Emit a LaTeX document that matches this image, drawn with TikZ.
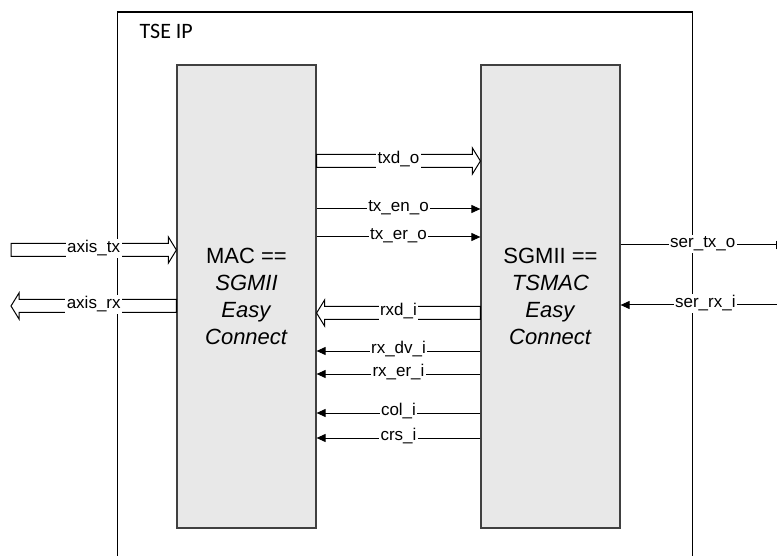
\documentclass[tikz,border=0pt]{standalone}
\usepackage{fontspec}
\setmainfont{Liberation Sans}
\newfontfamily\tsefont{Carlito}
\usepackage{tikz}
\usetikzlibrary{arrows.meta,positioning,calc}
\definecolor{blockgray}{HTML}{E8E8E8}

\begin{document}
\begin{tikzpicture}[x=1pt,y=-1pt,
  blk/.style={draw=black!75,line width=1.2pt,fill=blockgray,minimum width=139pt,minimum height=463pt,inner sep=0pt,align=center,font=\fontsize{22}{27}\selectfont},
  lab/.style={fill=white,inner sep=1.5pt,anchor=mid,font=\fontsize{17}{20}\selectfont},
  ar/.style={-{Triangle[length=9pt,width=8pt]},line width=1pt},
  hr/.style={draw,fill=white,line width=1pt,to path={let \p1=(\tikztostart),\p2=(\tikztotarget) in
    (\x1,\y1+6.5pt) -- (\x2-8pt,\y1+6.5pt) -- (\x2-8pt,\y1+13pt) -- (\x2,\y1) -- (\x2-8pt,\y1-13pt) -- (\x2-8pt,\y1-6.5pt) -- (\x1,\y1-6.5pt) -- cycle}},
  hl/.style={draw,fill=white,line width=1pt,to path={let \p1=(\tikztostart),\p2=(\tikztotarget) in
    (\x1,\y1+6.5pt) -- (\x2+8pt,\y1+6.5pt) -- (\x2+8pt,\y1+13pt) -- (\x2,\y1) -- (\x2+8pt,\y1-13pt) -- (\x2+8pt,\y1-6.5pt) -- (\x1,\y1-6.5pt) -- cycle}}]
\useasboundingbox (0,0) rectangle (777,556);

% outer IP frame
\node[draw,line width=1.2pt,minimum width=575pt,minimum height=570pt,inner sep=0pt,anchor=north west] (tse) at (117,11.5) {};
\node[anchor=base west,font=\tsefont\fontsize{22}{26}\selectfont] (tsel) at (136,39) {TSE IP};

\node[blk] (mac) at (246.5,296.5) {MAC ==\\\textit{SGMII}\\\textit{Easy}\\\textit{Connect}};
\node[blk] (sgm) at (550.5,296.5) {SGMII ==\\\textit{TSMAC}\\\textit{Easy}\\\textit{Connect}};

% free ends
\coordinate (axtx) at (11,250);
\coordinate (axrx) at (11,306);
\coordinate (sertx) at (785,245);
\coordinate (serrx) at (790,305);

% user side
\draw[hr] (axtx) to (mac.west |- axtx);
\path (axtx) -- node[lab]{axis\_tx} (mac.west |- axtx);
\draw[hl] (mac.west |- axrx) to (axrx);
\path (axrx) -- node[lab]{axis\_rx} (mac.west |- axrx);

% tx direction
\draw[hr] (mac.east |- 0,161) to (sgm.west |- 0,161);
\path (mac.east |- 0,161) -- node[lab]{txd\_o} (sgm.west |- 0,161);
\draw[ar] (mac.east |- 0,209) -- node[lab]{tx\_en\_o} (sgm.west |- 0,209);
\draw[ar] (mac.east |- 0,237) -- node[lab]{tx\_er\_o} (sgm.west |- 0,237);

% rx direction
\draw[hl] (sgm.west |- 0,313) to (mac.east |- 0,313);
\path (sgm.west |- 0,313) -- node[lab]{rxd\_i} (mac.east |- 0,313);
\draw[ar] (sgm.west |- 0,351) -- node[lab]{rx\_dv\_i} (mac.east |- 0,351);
\draw[ar] (sgm.west |- 0,374) -- node[lab]{rx\_er\_i} (mac.east |- 0,374);
\draw[ar] (sgm.west |- 0,413) -- node[lab]{col\_i} (mac.east |- 0,413);
\draw[ar] (sgm.west |- 0,438) -- node[lab]{crs\_i} (mac.east |- 0,438);

% serial side
\draw[ar] (sgm.east |- sertx) -- node[lab]{ser\_tx\_o} (sertx);
\draw[ar] (serrx) -- node[lab]{ser\_rx\_i} (sgm.east |- serrx);
\end{tikzpicture}
\end{document}
